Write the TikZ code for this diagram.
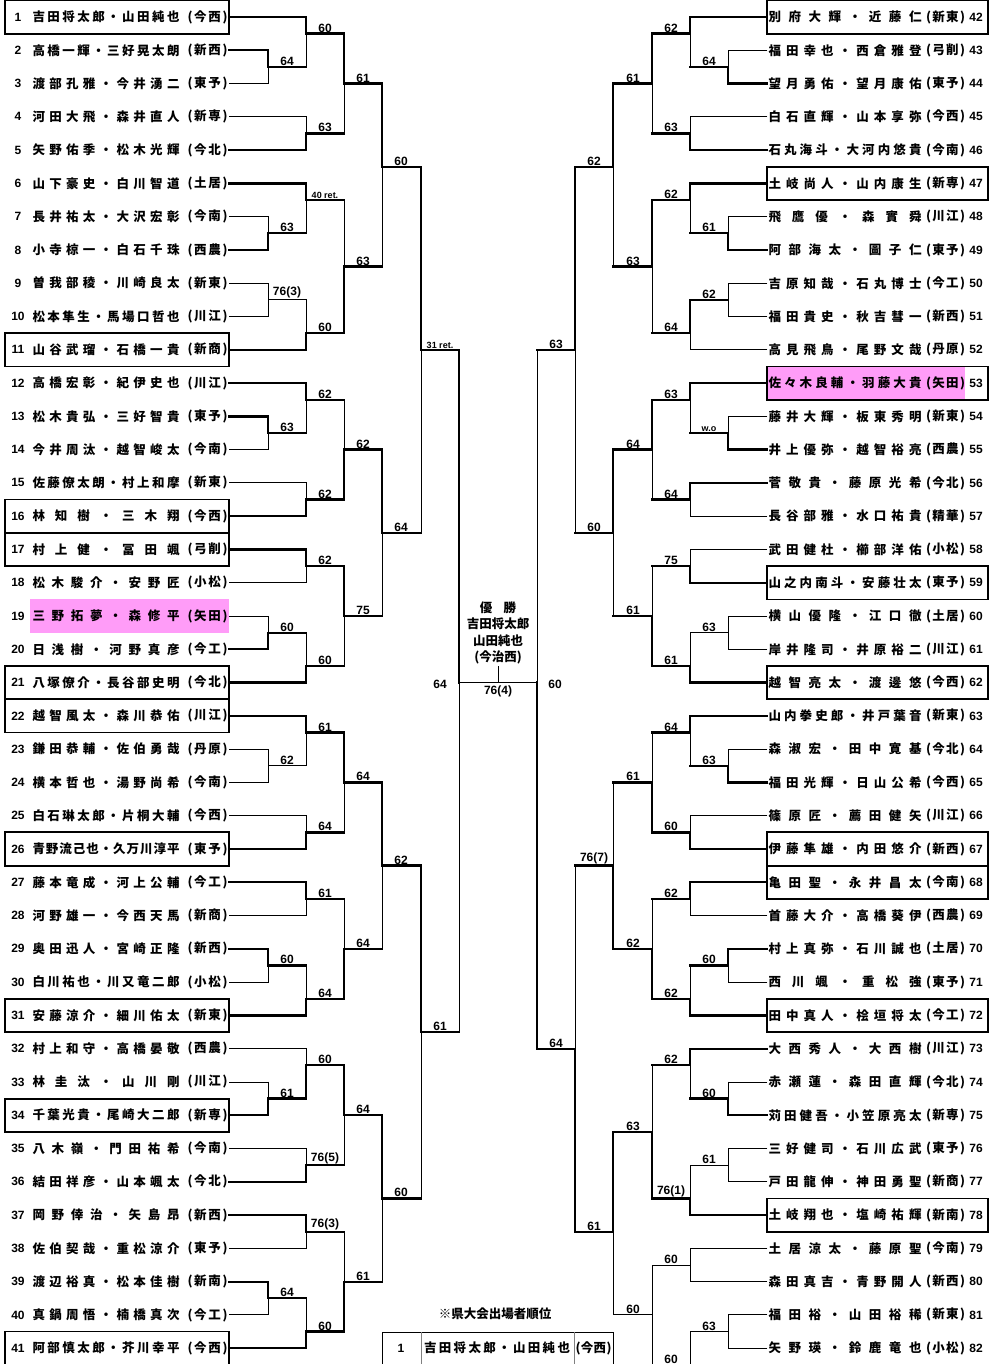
\documentclass[tikz,border=0pt]{standalone}
\usepackage{fontspec}
\setmainfont{Liberation Sans}
\newfontfamily\jp{Noto Sans CJK JP}
\usetikzlibrary{calc}

\definecolor{seedpink}{HTML}{FF9CF8}

% spread the characters of a name over a fixed width
\def\spreadend{}
\newcommand\spread[2]{\makebox[#1][s]{\spreadA#2\spreadend}}
\def\spreadA#1{#1\spreadB}
\def\spreadB#1{\ifx#1\spreadend\else\hfil#1\expandafter\spreadB\fi}

\newcommand\rowy[1]{(17+(#1-1)*33.28)}
\newcommand\sm[1]{{\fontsize{9}{9}\selectfont #1}}

\newcommand\lentry[3]{%
  \node (k#1) [num] at (18,{\rowy{#1}}) {#1};
  \node (n#1) [nm] at (106,{\rowy{#1}}) {\spread{147pt}{#2}};
  \node (s#1) [nm] at (207.5,{\rowy{#1}}) {\spread{40pt}{#3}};
  \coordinate (e#1) at (229,{\rowy{#1}});
}
\newcommand\rentry[3]{%
  \node (n#1) [nm] at (845,{\rowy{#1-41}}) {\spread{153pt}{#2}};
  \node (s#1) [nm] at (945.5,{\rowy{#1-41}}) {\spread{39pt}{#3}};
  \node (k#1) [num] at (976,{\rowy{#1-41}}) {#1};
  \coordinate (e#1) at (767,{\rowy{#1-41}});
}
\newcommand\lseed[1]{\draw[seedbox] (5,{\rowy{#1}-16.64}) rectangle (229,{\rowy{#1}+16.64});}
\newcommand\rseed[1]{\draw[seedbox] (767,{\rowy{#1-41}-16.64}) rectangle (988,{\rowy{#1-41}+16.64});}

% one leg of a game: horizontal in, then vertical to the exit point
\newcommand\gameleg[3]{%
  \ifnum#3=1 \def\hst{win}\def\vst{win}%
  \else\def\vst{lose}\ifcsname won@#2\endcsname\def\hst{win}\else\def\hst{lose}\fi\fi
  \draw[\hst] (#2) -- (#2 -| #1);
  \draw[\vst] (#2 -| #1) -- (#1);
}
\def\sdir{19}
% name, x, upper, lower, exit row, winner (0/1/2), score
\newcommand\game[7]{%
  \coordinate (#1) at (#2,{\rowy{#5}});
  \ifnum#6=0 \else\expandafter\gdef\csname won@#1\endcsname{}\fi
  \ifnum#6=1 \gameleg{#1}{#3}{1}\else\gameleg{#1}{#3}{0}\fi
  \ifnum#6=2 \gameleg{#1}{#4}{1}\else\gameleg{#1}{#4}{0}\fi
  \if\relax\detokenize{#7}\relax\else
    \node (#1-s) [score] at ({#2+\sdir},{\rowy{#5}}) {#7};
  \fi
}

\tikzset{
  win/.style={line width=2.3pt, line cap=rect},
  lose/.style={line width=0.9pt, line cap=rect},
  seedbox/.style={line width=1.8pt},
  divider/.style={line width=0.6pt, gray},
  num/.style={font=\bfseries\fontsize{12}{12}\selectfont, inner sep=0pt},
  nm/.style={font=\jp\bfseries\fontsize{12.5}{13}\selectfont, inner sep=0pt},
  score/.style={font=\bfseries\fontsize{12}{12}\selectfont, anchor=south, inner sep=0pt, yshift=1.2pt},
  champ/.style={font=\jp\bfseries\fontsize{12.5}{16.4}\selectfont, align=center, inner sep=0pt},
}

\begin{document}
\begin{tikzpicture}[x=1pt,y=-1pt]

  \useasboundingbox (0,0) rectangle (989,1364);
  \clip (0,0) rectangle (989,1364);
  \fill[white] (0,0) rectangle (989,1364);

  \fill[seedpink] (30,{\rowy{19}-16.64}) rectangle (229,{\rowy{19}+16.64});
  \fill[seedpink] (767,{\rowy{12}-16.64}) rectangle (965,{\rowy{12}+16.64});

  \lentry{1}{吉田将太郎・山田純也}{(今西)}
  \lentry{2}{高橋一輝・三好晃太朗}{(新西)}
  \lentry{3}{渡部孔雅・今井湧二}{(東予)}
  \lentry{4}{河田大飛・森井直人}{(新専)}
  \lentry{5}{矢野佑季・松木光輝}{(今北)}
  \lentry{6}{山下豪史・白川智道}{(土居)}
  \lentry{7}{長井祐太・大沢宏彰}{(今南)}
  \lentry{8}{小寺椋一・白石千珠}{(西農)}
  \lentry{9}{曽我部稜・川崎良太}{(新東)}
  \lentry{10}{松本隼生・馬場口哲也}{(川江)}
  \lentry{11}{山谷武瑠・石橋一貴}{(新商)}
  \lentry{12}{高橋宏彰・紀伊史也}{(川江)}
  \lentry{13}{松木貴弘・三好智貴}{(東予)}
  \lentry{14}{今井周汰・越智峻太}{(今南)}
  \lentry{15}{佐藤僚太朗・村上和摩}{(新東)}
  \lentry{16}{林知樹・三木翔}{(今西)}
  \lentry{17}{村上健・冨田颯}{(弓削)}
  \lentry{18}{松木駿介・安野匠}{(小松)}
  \lentry{19}{三野拓夢・森修平}{(矢田)}
  \lentry{20}{日浅樹・河野真彦}{(今工)}
  \lentry{21}{八塚僚介・長谷部史明}{(今北)}
  \lentry{22}{越智風太・森川恭佑}{(川江)}
  \lentry{23}{鎌田恭輔・佐伯勇哉}{(丹原)}
  \lentry{24}{横本哲也・湯野尚希}{(今南)}
  \lentry{25}{白石琳太郎・片桐大輔}{(今西)}
  \lentry{26}{青野流己也・久万川淳平}{(東予)}
  \lentry{27}{藤本竜成・河上公輔}{(今工)}
  \lentry{28}{河野雄一・今西天馬}{(新商)}
  \lentry{29}{奥田迅人・宮崎正隆}{(新西)}
  \lentry{30}{白川祐也・川又竜二郎}{(小松)}
  \lentry{31}{安藤涼介・細川佑太}{(新東)}
  \lentry{32}{村上和守・高橋晏敬}{(西農)}
  \lentry{33}{林圭汰・山川剛}{(川江)}
  \lentry{34}{千葉光貴・尾崎大二郎}{(新専)}
  \lentry{35}{八木嶺・門田祐希}{(今南)}
  \lentry{36}{結田祥彦・山本颯太}{(今北)}
  \lentry{37}{岡野倖治・矢島昂}{(新西)}
  \lentry{38}{佐伯契哉・重松涼介}{(東予)}
  \lentry{39}{渡辺裕真・松本佳樹}{(新南)}
  \lentry{40}{真鍋周悟・楠橋真次}{(今工)}
  \lentry{41}{阿部慎太郎・芥川幸平}{(今西)}

  \rentry{42}{別府大輝・近藤仁}{(新東)}
  \rentry{43}{福田幸也・西倉雅登}{(弓削)}
  \rentry{44}{望月勇佑・望月康佑}{(東予)}
  \rentry{45}{白石直輝・山本享弥}{(今西)}
  \rentry{46}{石丸海斗・大河内悠貴}{(今南)}
  \rentry{47}{土岐尚人・山内康生}{(新専)}
  \rentry{48}{飛鷹優・森實舜}{(川江)}
  \rentry{49}{阿部海太・圖子仁}{(東予)}
  \rentry{50}{吉原知哉・石丸博士}{(今工)}
  \rentry{51}{福田貴史・秋吉彗一}{(新西)}
  \rentry{52}{高見飛鳥・尾野文哉}{(丹原)}
  \rentry{53}{佐々木良輔・羽藤大貴}{(矢田)}
  \rentry{54}{藤井大輝・板東秀明}{(新東)}
  \rentry{55}{井上優弥・越智裕亮}{(西農)}
  \rentry{56}{菅敬貴・藤原光希}{(今北)}
  \rentry{57}{長谷部雅・水口祐貴}{(精華)}
  \rentry{58}{武田健杜・櫛部洋佑}{(小松)}
  \rentry{59}{山之内南斗・安藤壮太}{(東予)}
  \rentry{60}{横山優隆・江口徹}{(土居)}
  \rentry{61}{岸井隆司・井原裕二}{(川江)}
  \rentry{62}{越智亮太・渡邊悠}{(今西)}
  \rentry{63}{山内拳史郎・井戸葉音}{(新東)}
  \rentry{64}{森淑宏・田中寛基}{(今北)}
  \rentry{65}{福田光輝・日山公希}{(今西)}
  \rentry{66}{篠原匠・薦田健矢}{(川江)}
  \rentry{67}{伊藤隼雄・内田悠介}{(新西)}
  \rentry{68}{亀田聖・永井昌太}{(今南)}
  \rentry{69}{首藤大介・高橋葵伊}{(西農)}
  \rentry{70}{村上真弥・石川誠也}{(土居)}
  \rentry{71}{西川颯・重松強}{(東予)}
  \rentry{72}{田中真人・桧垣将太}{(今工)}
  \rentry{73}{大西秀人・大西樹}{(川江)}
  \rentry{74}{赤瀬蓮・森田直輝}{(今北)}
  \rentry{75}{苅田健吾・小笠原亮太}{(新専)}
  \rentry{76}{三好健司・石川広武}{(東予)}
  \rentry{77}{戸田龍伸・神田勇聖}{(新商)}
  \rentry{78}{土岐翔也・塩崎祐輝}{(新南)}
  \rentry{79}{土居涼太・藤原聖}{(今南)}
  \rentry{80}{森田真吉・青野開人}{(新西)}
  \rentry{81}{福田裕・山田裕稀}{(新東)}
  \rentry{82}{矢野瑛・鈴鹿竜也}{(小松)}
  \coordinate (e83) at (767,{\rowy{42}});

  \lseed{1} \lseed{11} \lseed{16} \lseed{17} \lseed{21}
  \lseed{22} \lseed{26} \lseed{31} \lseed{34} \lseed{41}
  \rseed{42} \rseed{47} \rseed{53} \rseed{59} \rseed{62}
  \rseed{67} \rseed{68} \rseed{72} \rseed{78}

  % left half
  \game{L1}{268}{e2}{e3}{2.5}{1}{64}
  \game{L2}{306}{e1}{L1}{1.5}{1}{60}
  \game{L3}{306}{e4}{e5}{4.5}{2}{63}
  \game{L4}{344}{L2}{L3}{3}{1}{61}
  \game{L5}{268}{e7}{e8}{7.5}{2}{63}
  \game{L6}{306}{e6}{L5}{6.5}{1}{\sm{40 ret.}}
  \game{L7}{268}{e9}{e10}{9.5}{0}{76(3)}
  \game{L8}{306}{L7}{e11}{10.5}{2}{60}
  \game{L9}{344}{L6}{L8}{8.5}{2}{63}
  \game{L10}{382}{L4}{L9}{5.5}{1}{60}
  \game{L11}{268}{e13}{e14}{13.5}{1}{63}
  \game{L12}{306}{e12}{L11}{12.5}{1}{62}
  \game{L13}{306}{e15}{e16}{15.5}{2}{62}
  \game{L14}{344}{L12}{L13}{14}{2}{62}
  \game{L15}{306}{e17}{e18}{17.5}{1}{62}
  \game{L16}{268}{e19}{e20}{19.5}{2}{60}
  \game{L17}{306}{L16}{e21}{20.5}{2}{60}
  \game{L18}{344}{L15}{L17}{19}{1}{75}
  \game{L19}{382}{L14}{L18}{16.5}{1}{64}
  \game{L20}{421}{L10}{L19}{11}{1}{\sm{31 ret.}}
  \game{L21}{268}{e23}{e24}{23.5}{0}{62}
  \game{L22}{306}{e22}{L21}{22.5}{1}{61}
  \game{L23}{306}{e25}{e26}{25.5}{2}{64}
  \game{L24}{344}{L22}{L23}{24}{1}{64}
  \game{L25}{306}{e27}{e28}{27.5}{1}{61}
  \game{L26}{268}{e29}{e30}{29.5}{1}{60}
  \game{L27}{306}{L26}{e31}{30.5}{2}{64}
  \game{L28}{344}{L25}{L27}{29}{2}{64}
  \game{L29}{382}{L24}{L28}{26.5}{1}{62}
  \game{L30}{268}{e33}{e34}{33.5}{2}{61}
  \game{L31}{306}{e32}{L30}{32.5}{2}{60}
  \game{L32}{306}{e35}{e36}{35.5}{2}{76(5)}
  \game{L33}{344}{L31}{L32}{34}{1}{64}
  \game{L34}{306}{e37}{e38}{37.5}{1}{76(3)}
  \game{L35}{268}{e39}{e40}{39.5}{1}{64}
  \game{L36}{306}{L35}{e41}{40.5}{2}{60}
  \game{L37}{344}{L34}{L36}{39}{2}{61}
  \game{L38}{382}{L33}{L37}{36.5}{1}{60}
  \game{L39}{421}{L29}{L38}{31.5}{1}{61}
  \game{LS}{459}{L20}{L39}{21}{1}{}

  % right half
  \def\sdir{-19}
  \game{R1}{728}{e43}{e44}{2.5}{2}{64}
  \game{R2}{690}{e42}{R1}{1.5}{1}{62}
  \game{R3}{690}{e45}{e46}{4.5}{2}{63}
  \game{R4}{652}{R2}{R3}{3}{1}{61}
  \game{R5}{728}{e48}{e49}{7.5}{2}{61}
  \game{R6}{690}{e47}{R5}{6.5}{1}{62}
  \game{R7}{728}{e50}{e51}{9.5}{0}{62}
  \game{R8}{690}{R7}{e52}{10.5}{1}{64}
  \game{R9}{652}{R6}{R8}{8.5}{1}{63}
  \game{R10}{613}{R4}{R9}{5.5}{1}{62}
  \game{R11}{728}{e54}{e55}{13.5}{2}{\sm{w.o}}
  \game{R12}{690}{e53}{R11}{12.5}{1}{63}
  \game{R13}{690}{e56}{e57}{15.5}{1}{64}
  \game{R14}{652}{R12}{R13}{14}{1}{64}
  \game{R15}{690}{e58}{e59}{17.5}{2}{75}
  \game{R16}{728}{e60}{e61}{19.5}{0}{63}
  \game{R17}{690}{R16}{e62}{20.5}{2}{61}
  \game{R18}{652}{R15}{R17}{19}{2}{61}
  \game{R19}{613}{R14}{R18}{16.5}{1}{60}
  \game{R20}{575}{R10}{R19}{11}{1}{63}
  \game{R21}{728}{e64}{e65}{23.5}{2}{63}
  \game{R22}{690}{e63}{R21}{22.5}{1}{64}
  \game{R23}{690}{e66}{e67}{25.5}{2}{60}
  \game{R24}{652}{R22}{R23}{24}{2}{61}
  \game{R25}{690}{e68}{e69}{27.5}{1}{62}
  \game{R26}{728}{e70}{e71}{29.5}{1}{60}
  \game{R27}{690}{R26}{e72}{30.5}{2}{62}
  \game{R28}{652}{R25}{R27}{29}{2}{62}
  \game{R29}{613}{R24}{R28}{26.5}{2}{76(7)}
  \game{R30}{728}{e74}{e75}{33.5}{2}{60}
  \game{R31}{690}{e73}{R30}{32.5}{1}{62}
  \game{R32}{728}{e76}{e77}{35.5}{0}{61}
  \game{R33}{690}{R32}{e78}{36.5}{2}{76(1)}
  \game{R34}{652}{R31}{R33}{34.5}{2}{63}
  \game{R35}{690}{e79}{e80}{38.5}{0}{60}
  \game{R36}{728}{e81}{e82}{40.5}{0}{63}
  \game{R37}{690}{R36}{e83}{41.5}{0}{60}
  \game{R38}{652}{R35}{R37}{40}{0}{60}
  \game{R39}{613}{R34}{R38}{37.5}{1}{61}
  \game{R40}{575}{R29}{R39}{32}{2}{64}
  \game{RS}{537}{R20}{R40}{21}{2}{}

  % final
  \node (champ) [champ] at (498,633) {優\hspace{0.9em}勝\\吉田将太郎\\山田純也\\(今治西)};
  \draw[lose] (LS) -- (RS);
  \draw[lose] (champ.south) ++(0,2) -- (champ.south |- LS);
  \node (ls-s) [num] at (440,684) {64};
  \node (rs-s) [num] at (555,684) {60};
  \node (final-s) [num, anchor=north] at ($(champ.south |- LS)+(0,3)$) {76(4)};

  % ranking table
  \node (rank-head) [nm] at (495,1314) {※県大会出場者順位};
  \draw[lose] (382,1332) rectangle (613,1400);
  \draw[divider] (421,1332) -- (421,1400);
  \draw[divider] (574,1332) -- (574,1400);
  \node (rank-no) [num] at (401,1348) {1};
  \node (rank-name) [nm] at (497,1348) {\spread{146pt}{吉田将太郎・山田純也}};
  \node (rank-school) [nm] at (593.5,1348) {\spread{36pt}{(今西)}};

\end{tikzpicture}
\end{document}
